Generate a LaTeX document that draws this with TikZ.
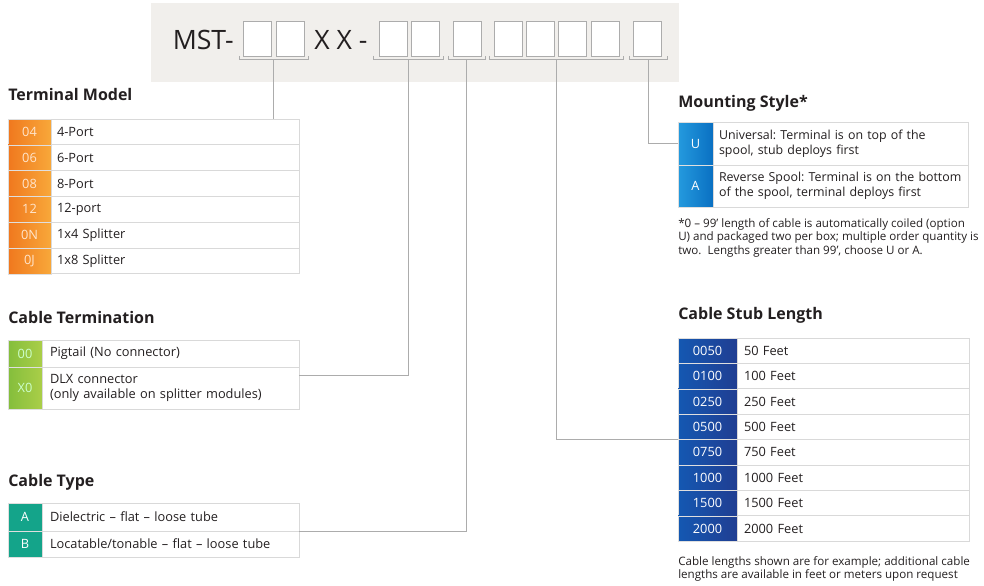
\documentclass[tikz,border=0pt]{standalone}
\usepackage{fontspec}
\setmainfont{Open Sans}
\usetikzlibrary{positioning}
\frenchspacing
\definecolor{barbg}{RGB}{241,239,236}
\definecolor{ink}{RGB}{35,31,32}
\definecolor{orgL}{RGB}{240,120,30}
\definecolor{orgR}{RGB}{248,168,58}
\definecolor{grnL}{RGB}{132,190,60}
\definecolor{grnR}{RGB}{170,206,72}
\definecolor{teal}{RGB}{20,164,138}
\definecolor{bluL}{RGB}{36,154,222}
\definecolor{bluR}{RGB}{10,112,194}
\definecolor{navL}{RGB}{20,88,178}
\definecolor{navR}{RGB}{32,62,146}

\begin{document}
\begin{tikzpicture}[x=0.75pt,y=-0.75pt,
    digit/.style={draw=gray!65,fill=white,line width=0.6pt,minimum width=21pt,minimum height=26.25pt,inner sep=0pt,anchor=north west},
    link/.style={draw=gray!65,line width=0.75pt},
    heading/.style={anchor=base west,inner sep=0pt,text=ink,font=\bfseries\fontsize{12}{14}\selectfont},
    code/.style={anchor=north west,inner sep=0pt,outer sep=0pt,draw=white!75!gray,line width=0.4pt,text=white,font=\fontsize{9.6}{11}\selectfont},
    entry/.style={draw=gray!30,line width=0.6pt,inner ysep=0pt,outer sep=0pt,align=left,text=ink,font=\fontsize{9.6}{11.5}\selectfont},
    note/.style={anchor=north west,inner sep=0pt,align=left,text=ink,font=\fontsize{8.7}{10.2}\selectfont}]
    \useasboundingbox (0,0) rectangle (984,585);

    % part number bar
    \fill[barbg] (151,3) rectangle (679,82);
    \node[anchor=base east,inner sep=0pt,text=ink,font=\fontsize{20}{20}\selectfont] (mst) at (234,50) {MST-};
    \node[anchor=base west,inner sep=0pt,text=ink,font=\fontsize{20}{20}\selectfont] (xx) at (314,50) {X X -};
    \foreach \x [count=\i] in {243,276,379,411,453,494,526,558,591,633}
        \node[digit] (d\i) at (\x,21) {};
    \foreach \a/\b/\n in {239/308/1,373/443/2,448/485/3,489/623/4,629/667/5}{
        \draw[link] (\a,56) -- (\a,60) -- (\b,60) -- (\b,56);
        \coordinate (br\n) at ({(\a+\b)/2},60);
    }

    % Terminal Model
    \node[heading] (tmhead) at (8,100) {Terminal Model};
    \foreach \c/\t [count=\i] in {04/4-Port,06/6-Port,08/8-Port,12/12-port,0N/1x4 Splitter,0J/1x8 Splitter}{
        \node[code,left color=orgL,right color=orgR,text=white!80!orange,minimum width=32.25pt,minimum height=19.35pt] (tmc\i) at (8,{119+25.8*(\i-1)}) {\c};
        \node[entry,right=0pt of tmc\i,inner xsep=4.5pt,text width=177pt,minimum height=19.35pt] (tmt\i) {\t};
    }

    % Cable Termination
    \node[heading] (cthead) at (8,323) {Cable Termination};
    \node[code,left color=grnL,right color=grnR,text=white!80!green,minimum width=25.5pt,minimum height=20.25pt] (ctc1) at (8,340) {00};
    \node[entry,right=0pt of ctc1,inner xsep=6pt,text width=180.75pt,minimum height=20.25pt] (ctt1) {Pigtail (No connector)};
    \node[code,left color=grnL,right color=grnR,text=white!80!green,minimum width=25.5pt,minimum height=31.5pt] (ctc2) at (8,367) {X0};
    \node[entry,right=0pt of ctc2,inner xsep=6pt,text width=180.75pt,minimum height=31.5pt] (ctt2) {DLX connector\\(only available on splitter modules)};

    % Cable Type
    \node[heading] (cyhead) at (8,486) {Cable Type};
    \node[code,fill=teal,minimum width=25.5pt,minimum height=21pt] (cyc1) at (8,503) {A};
    \node[entry,right=0pt of cyc1,inner xsep=6pt,text width=180.75pt,minimum height=21pt] (cyt1) {Dielectric – flat – loose tube};
    \node[code,fill=teal,minimum width=25.5pt,minimum height=19.5pt] (cyc2) at (8,531) {B};
    \node[entry,right=0pt of cyc2,inner xsep=6pt,text width=180.75pt,minimum height=19.5pt] (cyt2) {Locatable/tonable – flat – loose tube};

    % Mounting Style
    \node[heading] (mshead) at (678,108) {Mounting Style*};
    \node[code,left color=bluL,right color=bluR,minimum width=26.25pt,minimum height=32.25pt] (msc1) at (678,122) {U};
    \node[entry,right=0pt of msc1,inner xsep=4.5pt,text width=182.25pt,minimum height=32.25pt,font=\fontsize{9.3}{11.5}\selectfont] (mst1) {Universal: Terminal is on top of the\\spool, stub deploys first};
    \node[code,left color=bluL,right color=bluR,minimum width=26.25pt,minimum height=31.5pt] (msc2) at (678,165) {A};
    \node[entry,right=0pt of msc2,inner xsep=4.5pt,text width=182.25pt,minimum height=31.5pt,font=\fontsize{9.3}{11.5}\selectfont] (mst2) {Reverse Spool: Terminal is on the bottom\\of the spool, terminal deploys first};
    \node[note] (msnote) at (678,218) {*0 – 99’ length of cable is automatically coiled (option\\U) and packaged two per box; multiple order quantity is\\two.\ \ Lengths greater than 99’, choose U or A.};

    % Cable Stub Length
    \node[heading] (cshead) at (678,319) {Cable Stub Length};
    \foreach \c/\t [count=\i] in {0050/50,0100/100,0250/250,0500/500,0750/750,1000/1000,1500/1500,2000/2000}{
        \node[code,left color=navL,right color=navR,minimum width=44.25pt,minimum height=19.05pt] (csc\i) at (678,{338+25.4*(\i-1)}) {\c};
        \node[entry,right=0pt of csc\i,inner xsep=5.25pt,text width=163.5pt,minimum height=19.05pt] (cst\i) {\t\ Feet};
    }
    \node[note] (csnote) at (678,556) {Cable lengths shown are for example; additional cable\\lengths are available in feet or meters upon request};

    % connectors
    \draw[link] (br1) -- (br1 |- tmt1.north);
    \draw[link] (br2) |- ([yshift=9.75pt]ctt2.east);
    \draw[link] (br3) |- (cyt1.south east);
    \draw[link] (br4) |- (csc4.south west);
    \draw[link] (br5) |- (msc1.west);
\end{tikzpicture}
\end{document}
